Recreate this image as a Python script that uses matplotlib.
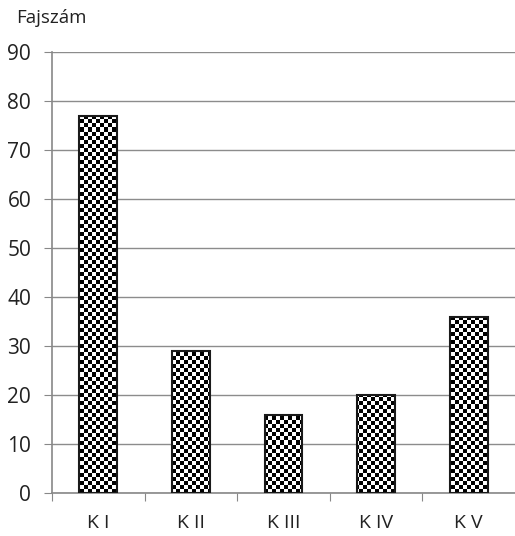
import matplotlib.pyplot as plt
import numpy as np

categories = ["K I", "K II", "K III", "K IV", "K V"]
values = [77, 29, 16, 20, 36]

plt.rcParams['font.family'] = ['Open Sans', 'DejaVu Sans']

fig = plt.figure(figsize=(5.15, 5.36), dpi=100)
fig.patch.set_fc('white')
ax = fig.add_axes([52 / 515, 1 - 493 / 536, (515 - 52) / 515, (493 - 52) / 536])

x = np.arange(len(categories))
bars = ax.bar(x, values, width=0.41, facecolor='none', edgecolor='#1a1a1a',
              linewidth=1.5, zorder=4)

# checkerboard fill (about 4 px cells), clipped to each bar
checker = (np.add.outer(np.arange(110), np.arange(116)) % 2).astype(float)
for b in bars:
    im = ax.imshow(checker, cmap='gray', vmin=0, vmax=1, extent=(-0.5, 4.5, 0, 90),
                   aspect='auto', interpolation='nearest', zorder=3)
    im.set_clip_path(b)

ax.set_xlim(-0.5, 4.5)
ax.set_ylim(0, 90)
ax.set_yticks(range(0, 91, 10))
ax.set_xticks(np.arange(-0.5, 4.5, 1.0))
ax.set_xticklabels([])
ax.set_xticks(x, minor=True)
ax.set_xticklabels(categories, minor=True)
ax.tick_params(axis='x', which='minor', length=0, pad=15, labelsize=14, labelcolor='#222222')
ax.tick_params(axis='x', which='major', length=6, color='#888888', direction='out')
ax.tick_params(axis='y', length=6, color='#888888', labelcolor='#222222', labelsize=15, pad=9)

ax.yaxis.grid(True, color='#8c8c8c', linewidth=1.0, zorder=0)
ax.set_axisbelow(True)
for s in ['top', 'right']:
    ax.spines[s].set_visible(False)
ax.spines['left'].set_color('#888888')
ax.spines['bottom'].set_color('#888888')
ax.spines['left'].set_linewidth(1.2)
ax.spines['bottom'].set_linewidth(1.2)

fig.text(16 / 515, 1 - 18 / 536, "Fajszám", fontsize=13.5, color='#222222',
         ha='left', va='center')

fig.savefig('out.png', dpi=100)
